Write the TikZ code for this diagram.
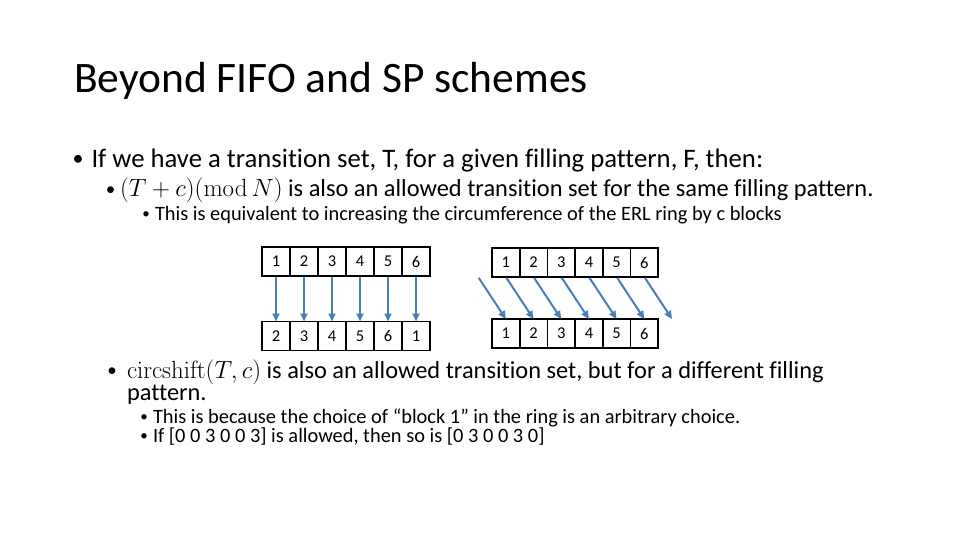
\documentclass[tikz,border=0pt]{standalone}
\usepackage[no-math]{fontspec}
\setmainfont[Ligatures={NoCommon}]{Carlito}
\usetikzlibrary{arrows.meta,calc}
\definecolor{arrowblue}{HTML}{4A7EBB}
\tikzset{
  txt/.style={anchor=base west, inner sep=0pt, outer sep=0pt},
  bul/.style={anchor=base, inner sep=0pt, outer sep=0pt},
  cellL/.style={draw=black, line width=1.6pt, minimum width=28pt, minimum height=29pt, inner sep=0pt, outer sep=0pt, font=\fontsize{16.5}{18}\selectfont},
  cellR/.style={draw=black, line width=1.6pt, minimum width=27.7pt, minimum height=29pt, inner sep=0pt, outer sep=0pt, font=\fontsize{16.5}{18}\selectfont},
  flow/.style={draw=arrowblue, line width=2pt, -{Triangle[length=8pt,width=7pt]}, shorten <=1pt},
  titlefont/.style={font=\fontsize{43.5}{48}\selectfont},
  lone/.style={font=\fontsize{26.7}{30}\selectfont},
  ltwo/.style={font=\fontsize{24.4}{28}\selectfont},
  lthree/.style={font=\fontsize{20.4}{24}\selectfont},
  bone/.style={font=\fontsize{22}{24}\selectfont},
  btwo/.style={font=\fontsize{19}{22}\selectfont},
  bthree/.style={font=\fontsize{15}{18}\selectfont},
}
\begin{document}
\begin{tikzpicture}[x=1pt,y=-1pt]
\useasboundingbox (0,0) rectangle (960,540);
\fill[white] (0,0) rectangle (960,540);
% title
\node[txt,titlefont] (title) at (74,93) {Beyond FIFO and SP schemes};
% bullets
\node[bul,bone] (b1) at (78,165.5) {•};
\node[txt,lone] (t1) at (91.5,167.7) {If we have a transition set, T, for a given filling pattern, F, then:};
\node[bul,btwo] (b2) at (110.5,195) {•};
\node[txt,ltwo] (t2) at (120,196.7) {$(T+c)(\mathrm{mod}\,N)$ is also an allowed transition set for the same filling pattern.};
\node[bul,bthree] (b3) at (146,218.5) {•};
\node[txt,lthree] (t3) at (155,220) {This is equivalent to increasing the circumference of the ERL ring by c blocks};
\node[bul,btwo] (b4) at (112,376.5) {•};
\node[txt,ltwo] (t4) at (127,378) {$\mathrm{circshift}(T,c)$ is also an allowed transition set, but for a different filling};
\node[txt,ltwo] (t4b) at (127,400) {pattern.};
\node[bul,bthree] (b5) at (144,421.5) {•};
\node[txt,lthree] (t5) at (153,423) {This is because the choice of “block 1” in the ring is an arbitrary choice.};
\node[bul,bthree] (b6) at (144,440.5) {•};
\node[txt,lthree] (t6) at (153,442) {If [0 0 3 0 0 3] is allowed, then so is [0 3 0 0 3 0]};
% left diagram
\foreach \i/\top/\bot in {1/1/2,2/2/3,3/3/4,4/4/5,5/5/6,6/6/1}{
  \node[cellL] (L\i) at ({262+28*(\i-0.5)},261.5) {\top};
  \node[cellL] (Lb\i) at ({262+28*(\i-0.5)},336) {\bot};
}
\foreach \i in {1,...,6}{
  \draw[flow] (L\i.south) -- (Lb\i.north);
}
% right diagram
\foreach \i in {1,...,6}{
  \node[cellR] (R\i) at ({492+27.7*(\i-0.5)},262.5) {\i};
  \node[cellR] (Rb\i) at ({492+27.7*(\i-0.5)},333.5) {\i};
}
\coordinate (R0) at ($(R1.south)-(27.7,0)$);
\coordinate (Rb7) at ($(Rb6.north)+(27.7,0)$);
\draw[flow] (R0) -- (Rb1.north);
\foreach \i/\j in {1/2,2/3,3/4,4/5,5/6}{
  \draw[flow] (R\i.south) -- (Rb\j.north);
}
\draw[flow] (R6.south) -- (Rb7);
\end{tikzpicture}
\end{document}
